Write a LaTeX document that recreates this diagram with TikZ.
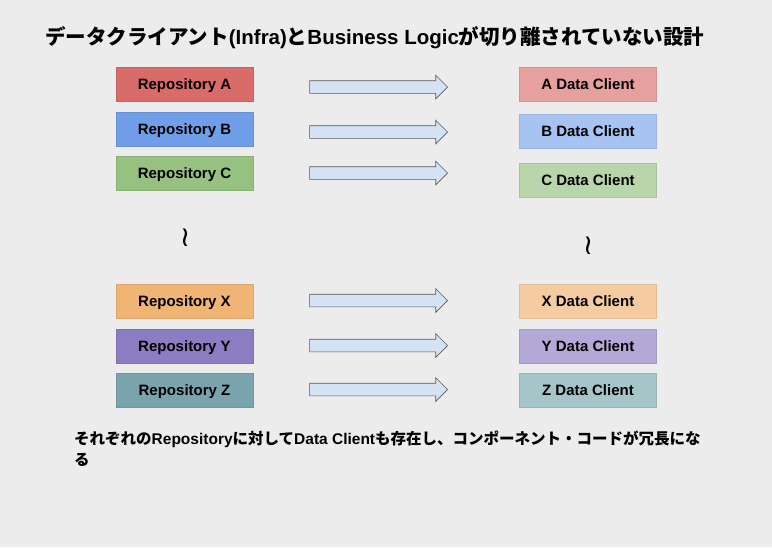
\documentclass[tikz,border=0pt]{standalone}
\usepackage{fontspec}
\setmainfont{Liberation Sans}
\newfontfamily\jp{Noto Sans CJK JP}
\newfontfamily\dv{DejaVu Sans}
\usetikzlibrary{shapes.arrows}
\definecolor{bgc}{HTML}{ECECEC}
\definecolor{cA}{HTML}{D96B69}
\definecolor{cB}{HTML}{709EE8}
\definecolor{cC}{HTML}{97C180}
\definecolor{cX}{HTML}{F0B474}
\definecolor{cY}{HTML}{8C7DC2}
\definecolor{cZ}{HTML}{7AA4AD}
\definecolor{dA}{HTML}{E6A09E}
\definecolor{dB}{HTML}{A7C3F2}
\definecolor{dC}{HTML}{B9D6AB}
\definecolor{dX}{HTML}{F5CCA2}
\definecolor{dY}{HTML}{B3A8D6}
\definecolor{dZ}{HTML}{A6C5C9}
\definecolor{arrfill}{HTML}{D3E3F3}
\definecolor{arrdraw}{HTML}{5A5A5A}
\begin{document}
\begin{tikzpicture}[x=1pt,y=-1pt,
  box/.style={minimum width=137pt, minimum height=34pt, inner sep=0pt,
    text height=10.8pt, text depth=0pt,
    font=\fontsize{15}{18}\selectfont\bfseries, draw=#1!92!black, fill=#1, line width=0.5pt},
  blockarrow/.style={single arrow, draw=arrdraw, fill=arrfill, line width=0.6pt,
    minimum height=138pt, minimum width=0pt, single arrow head extend=5.5pt,
    single arrow head indent=0pt, inner sep=0pt, text height=12pt, text depth=0pt,
    anchor=tip},
  squiggle/.style={font=\dv\fontsize{28}{28}\selectfont, inner sep=0pt},
  title/.style={font=\fontsize{20.5}{24}\selectfont\bfseries, inner sep=0pt},
  note/.style={font=\fontsize{15.5}{21}\selectfont\bfseries, inner sep=0pt, align=left}
]
\fill[bgc] (0,0) rectangle (772,547);
\useasboundingbox (0,0) rectangle (772,547);

\node[title, anchor=west] (title) at (45,38)
  {{\jp データクライアント}(Infra){\jp と}Business Logic{\jp が切り離されていない設計}};

% left boxes
\node[box=cA] (rA) at (184.5,84.5) {Repository A};
\node[box=cB] (rB) at (184.5,129.5) {Repository B};
\node[box=cC] (rC) at (184.5,173.5) {Repository C};
\node[box=cX] (rX) at (184.5,301.5) {Repository X};
\node[box=cY] (rY) at (184.5,346.5) {Repository Y};
\node[box=cZ] (rZ) at (184.5,390.5) {Repository Z};

% right boxes
\node[box=dA] (cliA) at (588,84) {A Data Client};
\node[box=dB] (cliB) at (588,131.5) {B Data Client};
\node[box=dC] (cliC) at (588,180) {C Data Client};
\node[box=dX] (cliX) at (588,301.5) {X Data Client};
\node[box=dY] (cliY) at (588,346.5) {Y Data Client};
\node[box=dZ] (cliZ) at (588,390.5) {Z Data Client};

% block arrows
\node[blockarrow] (aA) at (448,87) {};
\node[blockarrow] (aB) at (448,132) {};
\node[blockarrow] (aC) at (448,173) {};
\node[blockarrow] (aX) at (448,300.5) {};
\node[blockarrow] (aY) at (448,345.5) {};
\node[blockarrow] (aZ) at (448,389.5) {};

% squiggles
\node[squiggle] (sL) at (185,238) {≀};
\node[squiggle] (sR) at (588,246) {≀};

% note
\node[note, anchor=north west] (note) at (74,431)
  {{\jp それぞれの}Repository{\jp に対して}Data Client{\jp も存在し、コンポーネント・コードが冗長にな}\\{\jp る}};
\end{tikzpicture}
\end{document}
